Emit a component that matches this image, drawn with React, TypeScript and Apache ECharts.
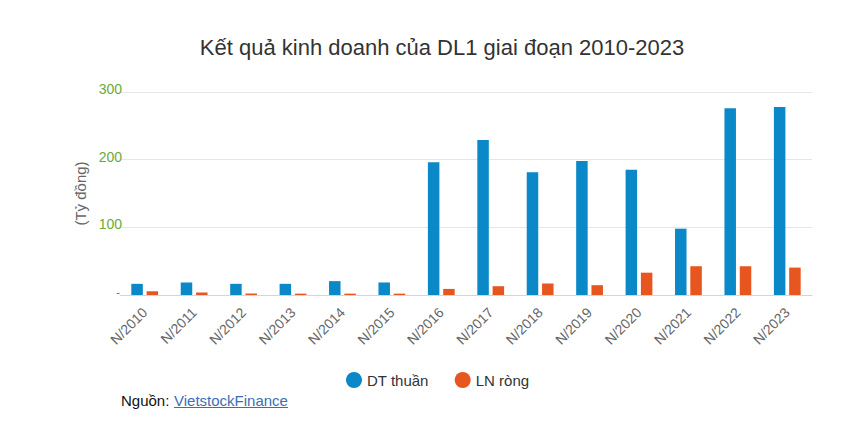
import React, { useEffect, useRef } from "react";
import * as echarts from "echarts";

const categories = ["N/2010", "N/2011", "N/2012", "N/2013", "N/2014", "N/2015", "N/2016", "N/2017", "N/2018", "N/2019", "N/2020", "N/2021", "N/2022", "N/2023"];
const dtThuan = [16.5, 18.5, 16.5, 16.5, 20.5, 18.5, 196, 229, 181.5, 198, 185, 98, 276, 278];
const lnRong = [5.5, 3.7, 2.2, 2, 2, 2, 9, 13, 17, 14.5, 33, 42.5, 42.5, 40.5];
const yTicks = { min: 0, max: 300, interval: 100 };

const FONT = "Arial, 'Liberation Sans', sans-serif";

export default function App() {
  const ref = useRef<HTMLDivElement>(null);
  useEffect(() => {
    document.body.style.margin = "0";
    const chart = echarts.init(ref.current!, undefined, { renderer: "svg" });
    chart.setOption({
      animation: false,
      backgroundColor: "#ffffff",
      textStyle: { fontFamily: FONT },
      title: {
        text: "Kết quả kinh doanh của DL1 giai đoạn 2010-2023",
        left: 437,
        textAlign: "center",
        top: 31,
        textStyle: { fontSize: 22, fontWeight: "normal", color: "#333333", fontFamily: FONT },
      },
      grid: { left: 120, right: 38, top: 92, bottom: 142, containLabel: false },
      legend: {
        left: 341,
        top: 367,
        icon: "circle",
        itemWidth: 16,
        itemHeight: 16,
        itemGap: 26,
        textStyle: { fontSize: 15, color: "#333333", fontFamily: FONT },
        data: ["DT thuần", "LN ròng"],
      },
      xAxis: {
        type: "category",
        data: categories,
        axisLine: { lineStyle: { color: "#ccd6eb" } },
        axisTick: { length: 10, lineStyle: { color: "#ccd6eb" } },
        axisLabel: { rotate: 45, color: "#666666", fontSize: 14, margin: 15, fontFamily: FONT },
      },
      yAxis: {
        type: "value",
        min: yTicks.min,
        max: yTicks.max,
        interval: yTicks.interval,
        name: "(Tỷ đồng)",
        nameLocation: "middle",
        nameRotate: 90,
        nameGap: 31,
        nameTextStyle: { color: "#666666", fontSize: 15, fontFamily: FONT },
        axisLine: { show: false },
        axisTick: { show: false },
        splitLine: { lineStyle: { color: "#e6e6e6" } },
        axisLabel: {
          margin: -2,
          fontSize: 14,
          color: "#6aaa3a",
          padding: [0, 0, 6, 0],
          fontFamily: FONT,
          formatter: (v: number) => (v === 0 ? "{z|-}" : String(v)),
          rich: { z: { color: "#666666", fontSize: 11, padding: [0, 2, 0, 0] } },
        },
      },
      series: [
        {
          name: "DT thuần",
          type: "bar",
          data: dtThuan,
          barWidth: 11.5,
          barGap: "33%",
          itemStyle: { color: "#0b88c8" },
        },
        {
          name: "LN ròng",
          type: "bar",
          data: lnRong,
          barWidth: 11.5,
          itemStyle: { color: "#e8561f" },
        },
      ],
      graphic: [
        {
          type: "text",
          left: 121,
          top: 393,
          style: { text: "Nguồn:", fontSize: 15, fill: "#111111", fontFamily: FONT },
        },
        {
          type: "text",
          left: 174,
          top: 393,
          style: { text: "VietstockFinance", fontSize: 15, fill: "#3a6fb5", fontFamily: FONT },
        },
        {
          type: "line",
          shape: { x1: 174, y1: 407.5, x2: 288, y2: 407.5 },
          style: { stroke: "#3a6fb5", lineWidth: 1 },
        },
      ],
    });
    return () => chart.dispose();
  }, []);
  return <div ref={ref} style={{ width: 850, height: 437 }} />;
}
